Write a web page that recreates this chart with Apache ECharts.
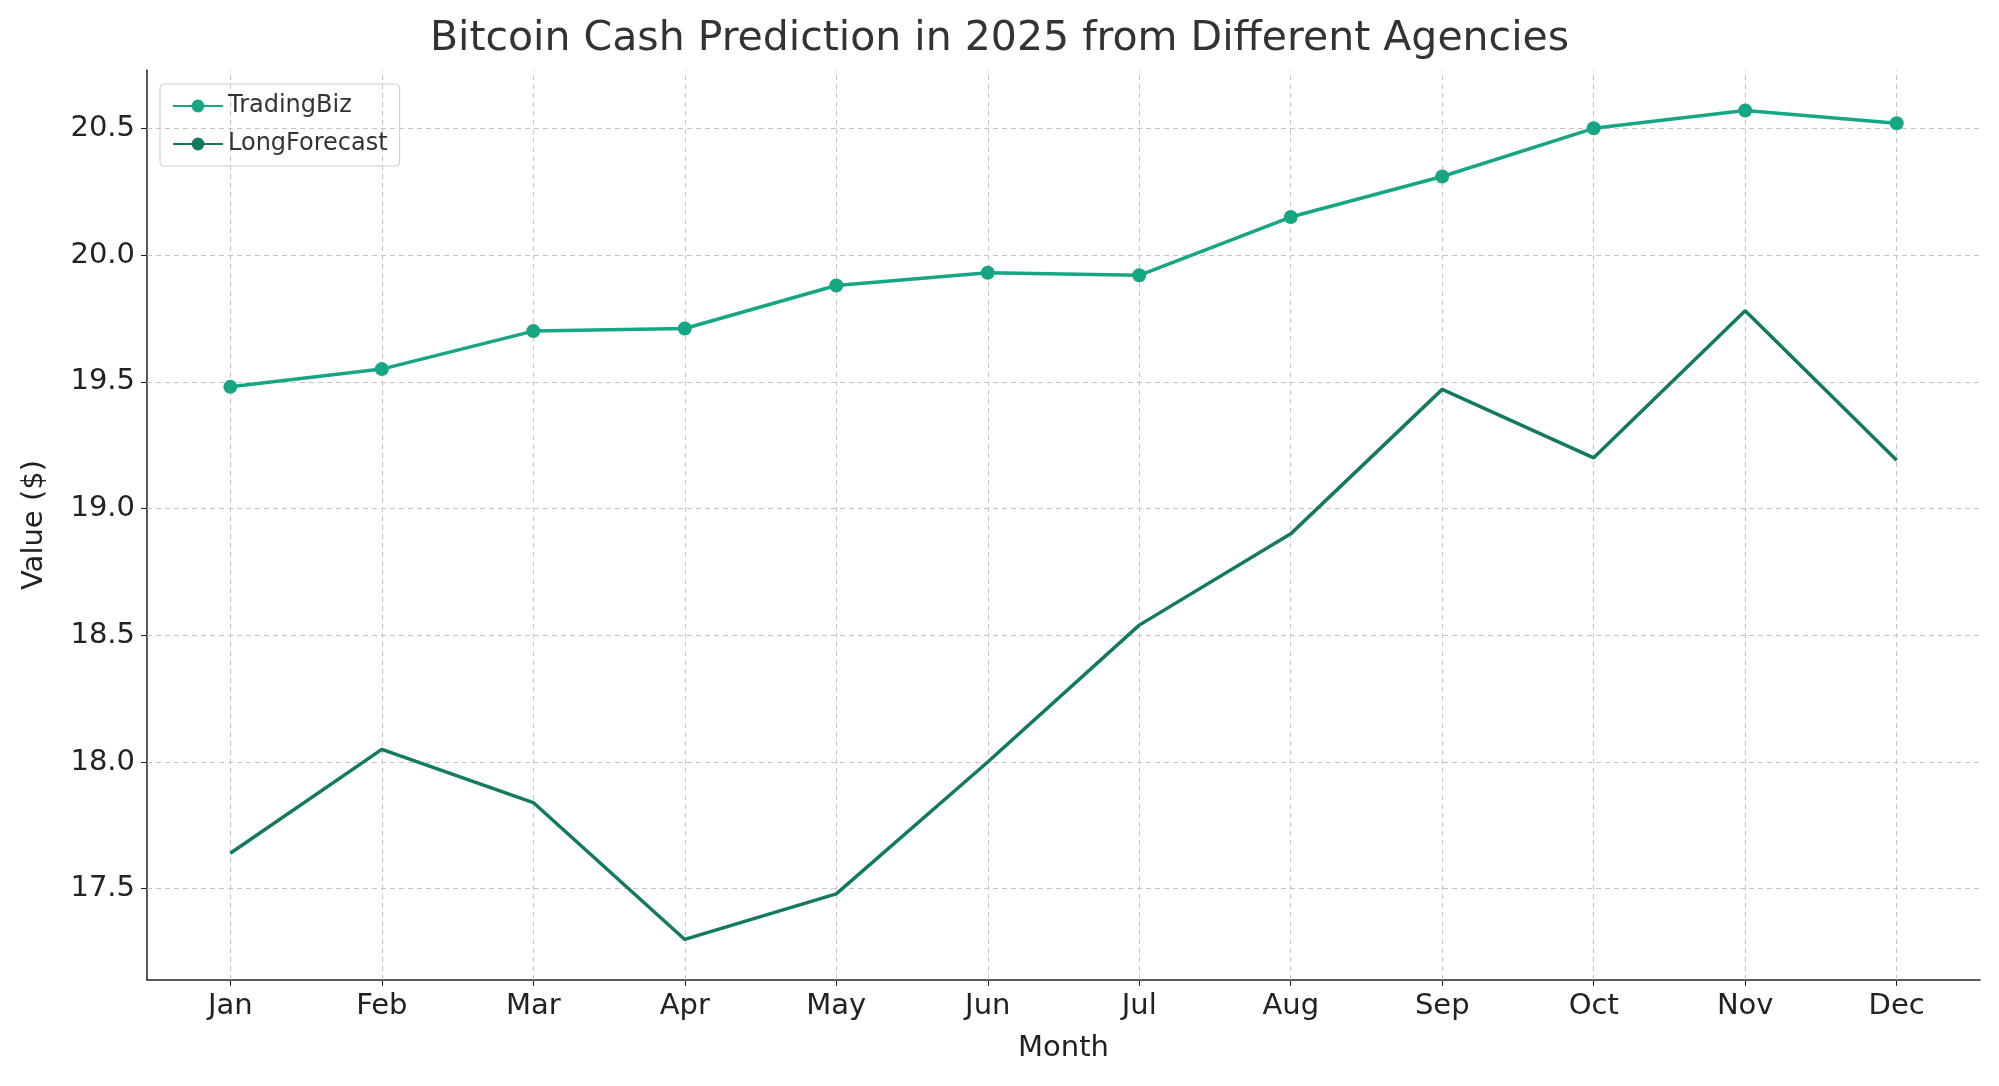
<!DOCTYPE html>
<html><head><meta charset="utf-8">
<script src="https://cdn.jsdelivr.net/npm/echarts@6/dist/echarts.min.js"></script>
<style>html,body{margin:0;background:#fff}#chart{width:1999px;height:1086px}</style>
</head><body><div id="chart"></div>
<script>
var months = ['Jan','Feb','Mar','Apr','May','Jun','Jul','Aug','Sep','Oct','Nov','Dec'];
var tradingBiz = [19.48,19.55,19.70,19.71,19.88,19.93,19.92,20.15,20.31,20.50,20.57,20.52];
var longForecast = [17.64,18.05,17.84,17.30,17.48,18.00,18.54,18.90,19.47,19.20,19.78,19.19];
var yTicks = [17.5,18.0,18.5,19.0,19.5,20.0,20.5];

function pairs(arr){
    return arr.map(function(v,i){ return [i,v]; });
}
var xIdx = months.map(function(m,i){ return i; });
var gridStyle = {color:'#c4c4c4', type:[5,4], width:1};
var font = 'DejaVu Sans';

var chart = echarts.init(document.getElementById('chart'));
chart.setOption({
    animation: false,
    textStyle: {fontFamily: font},
    title: {text:'Bitcoin Cash Prediction in 2025 from Different Agencies', left:'center', top:14,
        textStyle:{fontFamily:font, fontSize:41, fontWeight:'normal', color:'#333'}},
    grid: {left:147, right:19, top:70, bottom:106},
    legend: {left:160, top:84, orient:'vertical', itemWidth:50, itemHeight:16, itemGap:14,
        padding:[10,12], borderColor:'#ccc', borderWidth:1, borderRadius:4,
        textStyle:{fontFamily:font, fontSize:24, color:'#333'},
        data:['TradingBiz','LongForecast']},
    xAxis: {type:'value', min:-0.55, max:11.55, name:'Month', nameLocation:'middle', nameGap:54,
        nameTextStyle:{fontSize:29, color:'#222'},
        axisLine:{onZero:false, lineStyle:{color:'#222', width:1.5}},
        axisTick:{customValues:xIdx, length:6, lineStyle:{color:'#222'}},
        axisLabel:{customValues:xIdx, fontSize:29, color:'#222', margin:12,
            formatter:function(v){ return months[Math.round(v)]; }},
        splitLine:{show:false}},
    yAxis: {type:'value', min:17.14, max:20.73, name:'Value ($)', nameLocation:'middle', nameGap:98,
        nameTextStyle:{fontSize:29, color:'#222'},
        axisLine:{show:true, onZero:false, lineStyle:{color:'#222', width:1.5}},
        axisTick:{show:true, customValues:yTicks, length:6, lineStyle:{color:'#222'}},
        axisLabel:{customValues:yTicks, fontSize:29, color:'#222', margin:12,
            formatter:function(v){ return v.toFixed(1); }},
        splitLine:{show:false}},
    series: [
        {name:'TradingBiz', type:'line', data:pairs(tradingBiz), symbol:'circle', symbolSize:14,
            color:'#17a683', itemStyle:{color:'#17a683', borderWidth:0}, lineStyle:{width:3.5}, z:3,
            markLine:{silent:true, symbol:'none', label:{show:false}, lineStyle:gridStyle, z:1,
                data: yTicks.map(function(v){ return {yAxis:v}; })
                    .concat(xIdx.map(function(v){ return {xAxis:v}; }))}},
        {name:'LongForecast', type:'line', data:pairs(longForecast), showSymbol:false, symbol:'none',
            color:'#137a5f', lineStyle:{width:3.5}, z:3}
    ]
});
</script></body></html>
